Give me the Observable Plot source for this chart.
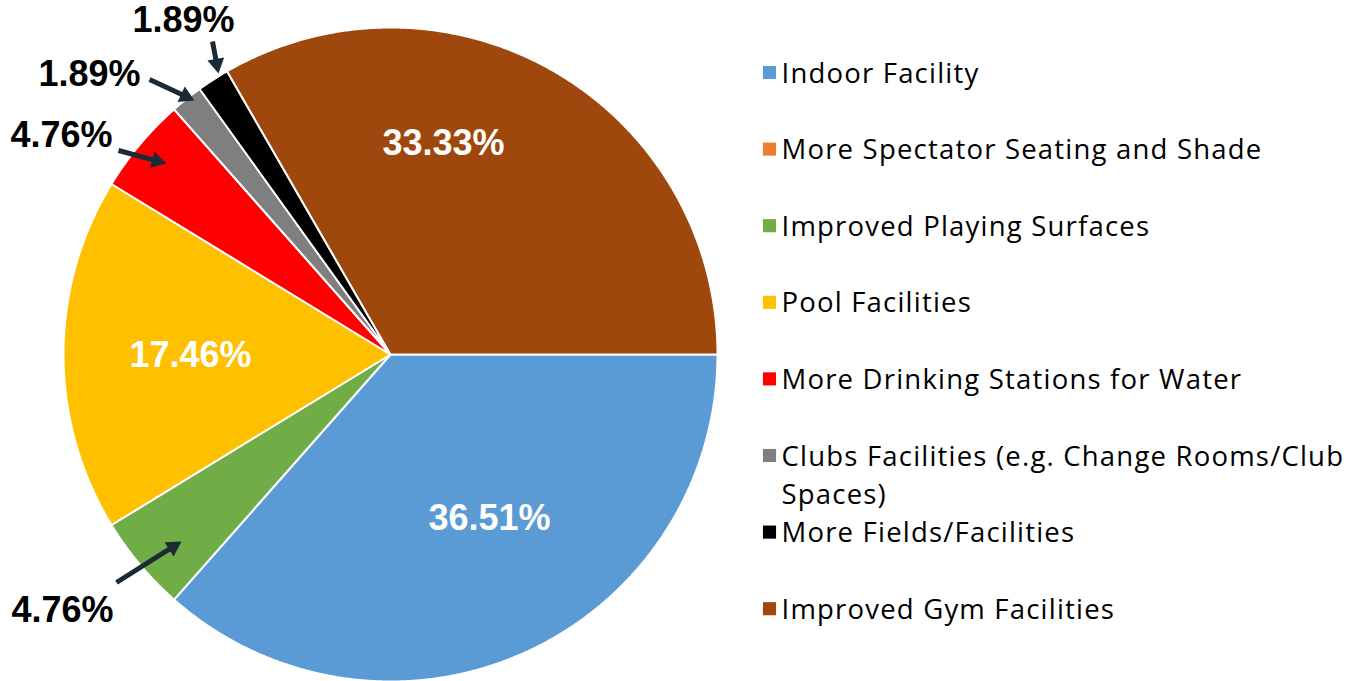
<!DOCTYPE html>
<html>
<head>
<meta charset="utf-8">
<script src="https://cdn.jsdelivr.net/npm/d3@7"></script>
<script src="https://cdn.jsdelivr.net/npm/@observablehq/plot@0.6"></script>
<style>
  html, body { margin: 0; padding: 0; background: #fff; }
  #chart svg { display: block; }
  #chart .legend-text text { letter-spacing: 1.2px; }
</style>
</head>
<body>
<div id="chart"></div>
<script>
// ---- data ----
const categories = [
  "Indoor Facility",
  "More Spectator Seating and Shade",
  "Improved Playing Surfaces",
  "Pool Facilities",
  "More Drinking Stations for Water",
  "Clubs Facilities (e.g. Change Rooms/Club\nSpaces)",
  "More Fields/Facilities",
  "Improved Gym Facilities"
];
const values = [36.51, 0, 4.76, 17.46, 4.76, 1.59, 1.59, 33.33];
const valueLabels = ["36.51%", "", "4.76%", "17.46%", "4.76%", "1.89%", "1.89%", "33.33%"];
const colors = ["#5B9BD5", "#ED7D31", "#70AD47", "#FFC000", "#FF0000", "#7F7F7F", "#000000", "#9E480E"];

// ---- layout ----
const W = 1350, H = 681;
const cx = 390, cy = 354, R = 327;
const labelLayout = [
  {i: 0, x: 489, y: 518, fill: "white"},
  {i: 7, x: 443, y: 143, fill: "white"},
  {i: 3, x: 190, y: 355, fill: "white"},
  {i: 6, x: 183, y: 20, fill: "black", ax1: 212, ay1: 41, ax2: 218, ay2: 73},
  {i: 5, x: 89, y: 74, fill: "black", ax1: 149, ay1: 79, ax2: 194, ay2: 100},
  {i: 4, x: 61, y: 135, fill: "black", ax1: 118, ay1: 150, ax2: 166, ay2: 163},
  {i: 2, x: 62, y: 610, fill: "black", ax1: 116, ay1: 582, ax2: 181, ay2: 541}
];

const arcs = d3.pie().sort(null).startAngle(Math.PI / 2).endAngle(Math.PI / 2 + 2 * Math.PI)(values);
const slicePts = [];
arcs.forEach((a, i) => {
  if (a.value <= 0) return;
  const cat = categories[i];
  slicePts.push({cat, x: cx, y: cy});
  const n = Math.max(4, Math.ceil((a.endAngle - a.startAngle) / 0.005));
  for (let k = 0; k <= n; k++) {
    const t = a.startAngle + (a.endAngle - a.startAngle) * k / n;
    slicePts.push({cat, x: cx + R * Math.sin(t), y: cy - R * Math.cos(t)});
  }
});

const legendX = 769, legendTextX = 781, legendY0 = 72, legendStep = 76.6, lineH = 38;
const legend = categories.map((c, i) => ({
  cat: c,
  y: legendY0 + i * legendStep,
  ty: legendY0 - 2 + i * legendStep + (c.split("\n").length - 1) * lineH / 2
}));

const labels = labelLayout.map(d => ({...d, text: valueLabels[d.i]}));

// arrows: shaft + filled triangular head
const headSide = 17;
const headH = headSide * Math.sqrt(3) / 2;
const headR = Math.sqrt((Math.sqrt(3) / 4) * headSide * headSide / Math.PI);
const arrows = labelLayout.filter(d => d.ax1 != null).map(d => {
  const dx = d.ax2 - d.ax1, dy = d.ay2 - d.ay1, L = Math.hypot(dx, dy);
  const ux = dx / L, uy = dy / L;
  const off = headH * 2 / 3;
  return {
    x1: d.ax1, y1: d.ay1,
    x2: d.ax2 - ux * off, y2: d.ay2 - uy * off,
    hx: d.ax2 - ux * off, hy: d.ay2 - uy * off,
    rot: Math.atan2(dx, -dy) * 180 / Math.PI
  };
});

const chart = Plot.plot({
  width: W,
  height: H,
  margin: 0,
  x: {domain: [0, W], range: [0, W], axis: null},
  y: {domain: [0, H], range: [0, H], axis: null},
  color: {domain: categories, range: colors},
  style: {background: "white"},
  marks: [
    Plot.line(slicePts, {x: "x", y: "y", z: "cat", fill: "cat", stroke: "white", strokeWidth: 2, curve: "linear-closed", strokeLinejoin: "round"}),
    Plot.text(labels, {x: "x", y: "y", text: "text", fill: "fill", fontFamily: "Liberation Sans, Arial, sans-serif", fontWeight: "bold", fontSize: 36}),
    Plot.link(arrows, {x1: "x1", y1: "y1", x2: "x2", y2: "y2", stroke: "#1C2A35", strokeWidth: 5}),
    Plot.dot(arrows, {x: "hx", y: "hy", symbol: "triangle", r: headR, rotate: "rot", fill: "#1C2A35", stroke: null}),
    Plot.dot(legend, {x: legendX, y: "y", fill: "cat", symbol: "square", r: 7.4, stroke: null}),
    Plot.text(legend, {x: legendTextX, y: "ty", text: "cat", fill: "black", textAnchor: "start", lineHeight: lineH / 27.5, fontFamily: "Open Sans, sans-serif", fontSize: 27.5, className: "legend-text"})
  ]
});
document.getElementById("chart").appendChild(chart);
</script>
</body>
</html>
